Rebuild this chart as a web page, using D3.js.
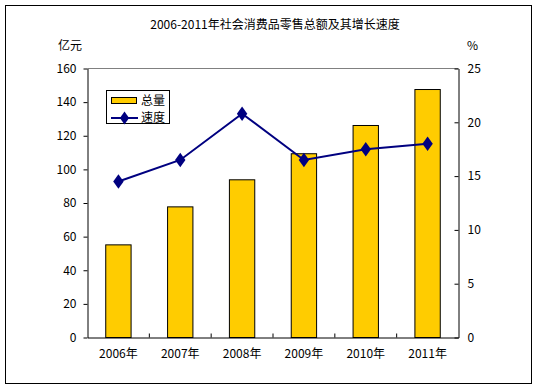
<!DOCTYPE html>
<html>
<head>
<meta charset="utf-8">
<script src="https://cdn.jsdelivr.net/npm/d3@7"></script>
<style>
  body { margin: 0; background: #fff; }
  text { font-family: "Noto Sans CJK SC", "DejaVu Sans", sans-serif; fill: #000; }
</style>
</head>
<body>
<div id="chart"></div>
<script>
var width = 537;
var height = 388;

// Chart data
var years = ["2006年", "2007年", "2008年", "2009年", "2010年", "2011年"];
var totals = [55.1, 77.7, 93.8, 109.3, 126.1, 147.5];   // 亿元
var growth = [14.5, 16.5, 20.8, 16.5, 17.5, 18.0];       // %
var leftTicks = [0, 20, 40, 60, 80, 100, 120, 140, 160];
var rightTicks = [0, 5, 10, 15, 20, 25];

// Plot area
var plot = {left: 87.5, right: 458.5, top: 68.5, bottom: 337.5};

var svg = d3.select("#chart").append("svg")
    .attr("width", width)
    .attr("height", height);

// Outer frame
svg.append("rect")
    .attr("x", 5.5).attr("y", 5.5)
    .attr("width", 526).attr("height", 378)
    .attr("fill", "none").attr("stroke", "#000");

// Title and unit labels
svg.append("text")
    .attr("x", 275).attr("y", 29)
    .attr("text-anchor", "middle")
    .attr("font-size", 12)
    .text("2006-2011年社会消费品零售总额及其增长速度");

svg.append("text")
    .attr("x", 58).attr("y", 50)
    .attr("font-size", 12)
    .text("亿元");

svg.append("text")
    .attr("x", 467).attr("y", 50)
    .attr("font-size", 12)
    .text("%");

// Scales
var x = d3.scaleBand().domain(years).range([plot.left, plot.right]).paddingInner(0.59).paddingOuter(0.295);
var band = d3.scaleBand().domain(years).range([plot.left, plot.right]);
var yLeft = d3.scaleLinear().domain([0, 160]).range([plot.bottom, plot.top]);
var yRight = d3.scaleLinear().domain([0, 25]).range([plot.bottom, plot.top]);

// Top border of plot area (gray)
svg.append("line")
    .attr("x1", plot.left).attr("x2", plot.right)
    .attr("y1", plot.top).attr("y2", plot.top)
    .attr("stroke", "#808080");

// Bars
svg.selectAll("rect.bar")
    .data(totals)
    .enter()
    .append("rect")
      .attr("class", "bar")
      .attr("x", (d, i) => x(years[i]))
      .attr("y", d => yLeft(d))
      .attr("width", x.bandwidth())
      .attr("height", d => yLeft(0) - yLeft(d))
      .attr("fill", "#FFCC00")
      .attr("stroke", "#000")
      .attr("stroke-width", 1);

// Left axis
var gLeft = svg.append("g")
    .attr("transform", "translate(" + plot.left + ",0)")
    .call(d3.axisLeft(yLeft).tickValues(leftTicks).tickSize(4).tickSizeOuter(0).tickPadding(7));

// Right axis, ticks point inward
var gRight = svg.append("g")
    .attr("transform", "translate(" + plot.right + ",0)")
    .call(d3.axisRight(yRight).tickValues(rightTicks).tickSize(-4).tickSizeOuter(0).tickPadding(9));

// Bottom axis: labels only, ticks drawn at band boundaries
var gBottom = svg.append("g")
    .attr("transform", "translate(0," + plot.bottom + ")")
    .call(d3.axisBottom(band).tickSize(0).tickSizeOuter(0).tickPadding(12));

svg.selectAll("line.sep")
    .data(years.slice(1))
    .enter()
    .append("line")
      .attr("class", "sep")
      .attr("x1", d => band(d)).attr("x2", d => band(d))
      .attr("y1", plot.bottom).attr("y2", plot.bottom - 4)
      .attr("stroke", "#000");

[gLeft, gRight, gBottom].forEach(function(g) {
  g.selectAll("path.domain").attr("stroke", "#000");
  g.selectAll(".tick line").attr("stroke", "#000");
  g.selectAll("text")
    .attr("font-size", 12)
    .style("font-family", "'Noto Sans CJK SC', 'DejaVu Sans', sans-serif")
    .attr("fill", "#000");
});

// Growth line
var lineColor = "#000080";
var line = d3.line()
    .x((d, i) => band(years[i]) + band.bandwidth() / 2)
    .y(d => yRight(d));

svg.append("path")
    .datum(growth)
    .attr("d", line)
    .attr("fill", "none")
    .attr("stroke", lineColor)
    .attr("stroke-width", 2);

var diamond = d3.symbol().type(d3.symbolDiamond).size(60);

svg.selectAll("path.marker")
    .data(growth)
    .enter()
    .append("path")
      .attr("class", "marker")
      .attr("d", diamond)
      .attr("transform", (d, i) => "translate(" + (band(years[i]) + band.bandwidth() / 2) + "," + yRight(d) + ") scale(1.25,1)")
      .attr("fill", lineColor);

// Legend
var legend = svg.append("g");
legend.append("rect")
    .attr("x", 106.5).attr("y", 90.5)
    .attr("width", 63).attr("height", 33)
    .attr("fill", "#fff").attr("stroke", "#000");

legend.append("rect")
    .attr("x", 111.5).attr("y", 97.5)
    .attr("width", 25).attr("height", 6)
    .attr("fill", "#FFCC00").attr("stroke", "#000");

legend.append("text")
    .attr("x", 141).attr("y", 105)
    .attr("font-size", 12)
    .text("总量");

legend.append("line")
    .attr("x1", 111).attr("x2", 138)
    .attr("y1", 118).attr("y2", 118)
    .attr("stroke", lineColor).attr("stroke-width", 2);

legend.append("path")
    .attr("d", diamond)
    .attr("transform", "translate(124.5,118) scale(1.1,0.9)")
    .attr("fill", lineColor);

legend.append("text")
    .attr("x", 141).attr("y", 122)
    .attr("font-size", 12)
    .text("速度");
</script>
</body>
</html>
